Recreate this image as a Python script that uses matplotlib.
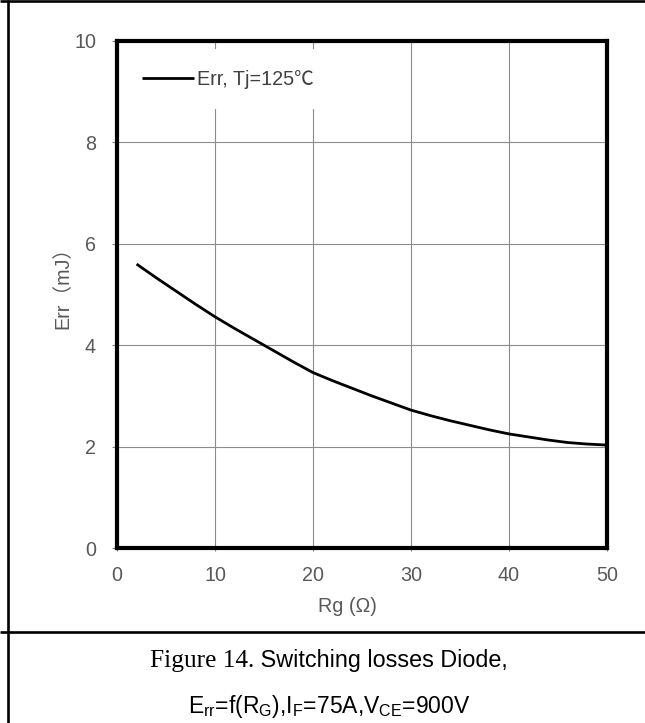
import matplotlib
matplotlib.use("Agg")
import matplotlib.pyplot as plt
from matplotlib.lines import Line2D

# ---- data ----
rg = [2, 4, 6, 8, 10, 12, 14, 16, 18, 20, 22, 24, 26, 28, 30, 32, 34, 36, 38, 40, 42, 44, 46, 48, 50]
err = [5.60, 5.33, 5.07, 4.81, 4.56, 4.33, 4.11, 3.89, 3.67, 3.46, 3.30, 3.15, 3.00, 2.86, 2.72,
       2.61, 2.51, 2.42, 2.33, 2.25, 2.19, 2.13, 2.08, 2.05, 2.03]
x_ticks = [0, 10, 20, 30, 40, 50]
y_ticks = [0, 2, 4, 6, 8, 10]
legend_label = "Err, Tj=125℃"
x_label = "Rg (Ω)"
y_label = "Err（mJ）"
caption_a = "Figure 14."
caption_b = " Switching losses Diode,"
caption_2 = r"E$_{\mathregular{rr}}$=f(R$_{\mathregular{G}}$),I$_{\mathregular{F}}$=75A,V$_{\mathregular{CE}}$=900V"

W, H = 645, 723
DPI = 100
fig = plt.figure(figsize=(W / DPI, H / DPI), dpi=DPI)
fig.patch.set_facecolor("white")

SANS = ["Liberation Sans", "Noto Sans CJK SC", "DejaVu Sans"]
GRAY = "#595959"

L, R, T, B = 117, 607, 41, 548
ax = fig.add_axes([L / W, (H - B) / H, (R - L) / W, (B - T) / H])

ax.plot(rg, err, color="black", lw=2.0, label=legend_label, solid_capstyle="butt")
ax.set_xlim(0, 50)
ax.set_ylim(0, 10)
ax.set_xticks(x_ticks)
ax.set_yticks(y_ticks)
ax.grid(True, color="#8c8c8c", lw=0.8)
ax.set_axisbelow(True)
for s in ax.spines.values():
    s.set_linewidth(3.0)
    s.set_color("black")

fs = 14.2
ax.tick_params(axis="y", direction="out", length=3.6, width=0.8, color="#808080",
               pad=11.5, labelsize=fs, labelcolor=GRAY)
ax.tick_params(axis="x", direction="out", length=2.5, width=0.8, color="#808080",
               pad=10.5, labelsize=fs, labelcolor=GRAY)
for lab in ax.get_xticklabels() + ax.get_yticklabels():
    lab.set_fontfamily(SANS)

ax.set_xlabel(x_label, fontsize=fs, color=GRAY, family=SANS, va="top")
ax.xaxis.set_label_coords((347 - L) / (R - L), (B - 597) / (B - T))
ax.set_ylabel(y_label, fontsize=14.2, color=GRAY, family=SANS)
ax.yaxis.set_label_coords((72 - L) / (R - L), (B - 283) / (B - T))

leg = ax.legend(loc="upper left", bbox_to_anchor=((121 - L) / (R - L), (B - 49) / (B - T)),
                borderaxespad=0, borderpad=1.05, handlelength=2.65, handletextpad=0.15,
                frameon=True, fancybox=False, framealpha=1, edgecolor="none",
                facecolor="white", prop={"family": SANS, "size": fs})
for t in leg.get_texts():
    t.set_color("#404040")

# ---- outer table frame ----
def hline(y, x0, x1, lw):
    fig.add_artist(Line2D([x0 / W, x1 / W], [1 - y / H, 1 - y / H], transform=fig.transFigure,
                          color="black", lw=lw, solid_capstyle="butt"))

def vline(x, y0, y1, lw):
    fig.add_artist(Line2D([x / W, x / W], [1 - y0 / H, 1 - y1 / H], transform=fig.transFigure,
                          color="black", lw=lw, solid_capstyle="butt"))

hline(1.3, 0, W, 1.9)
hline(631.7, 0, W, 1.9)
vline(8.3, 0, H, 1.9)

# ---- caption ----
fig.canvas.draw()
renderer = fig.canvas.get_renderer()
ta = fig.text(0, 1 - 667 / H, caption_a, family=["Liberation Serif", "DejaVu Serif"],
              fontsize=18.3, color="black", ha="left", va="baseline")
tb = fig.text(0, 1 - 667 / H, caption_b, family=SANS, fontsize=16.8, color="black",
              ha="left", va="baseline")
wa = ta.get_window_extent(renderer).width
wb = tb.get_window_extent(renderer).width
x0 = 328.5 - (wa + wb) / 2
ta.set_x(x0 / W)
tb.set_x((x0 + wa) / W)

fig.text(329.5 / W, 1 - 713 / H, caption_2, family=SANS, fontsize=16.5, color="black",
         ha="center", va="baseline")

fig.savefig("out.png", dpi=DPI, facecolor="white")
